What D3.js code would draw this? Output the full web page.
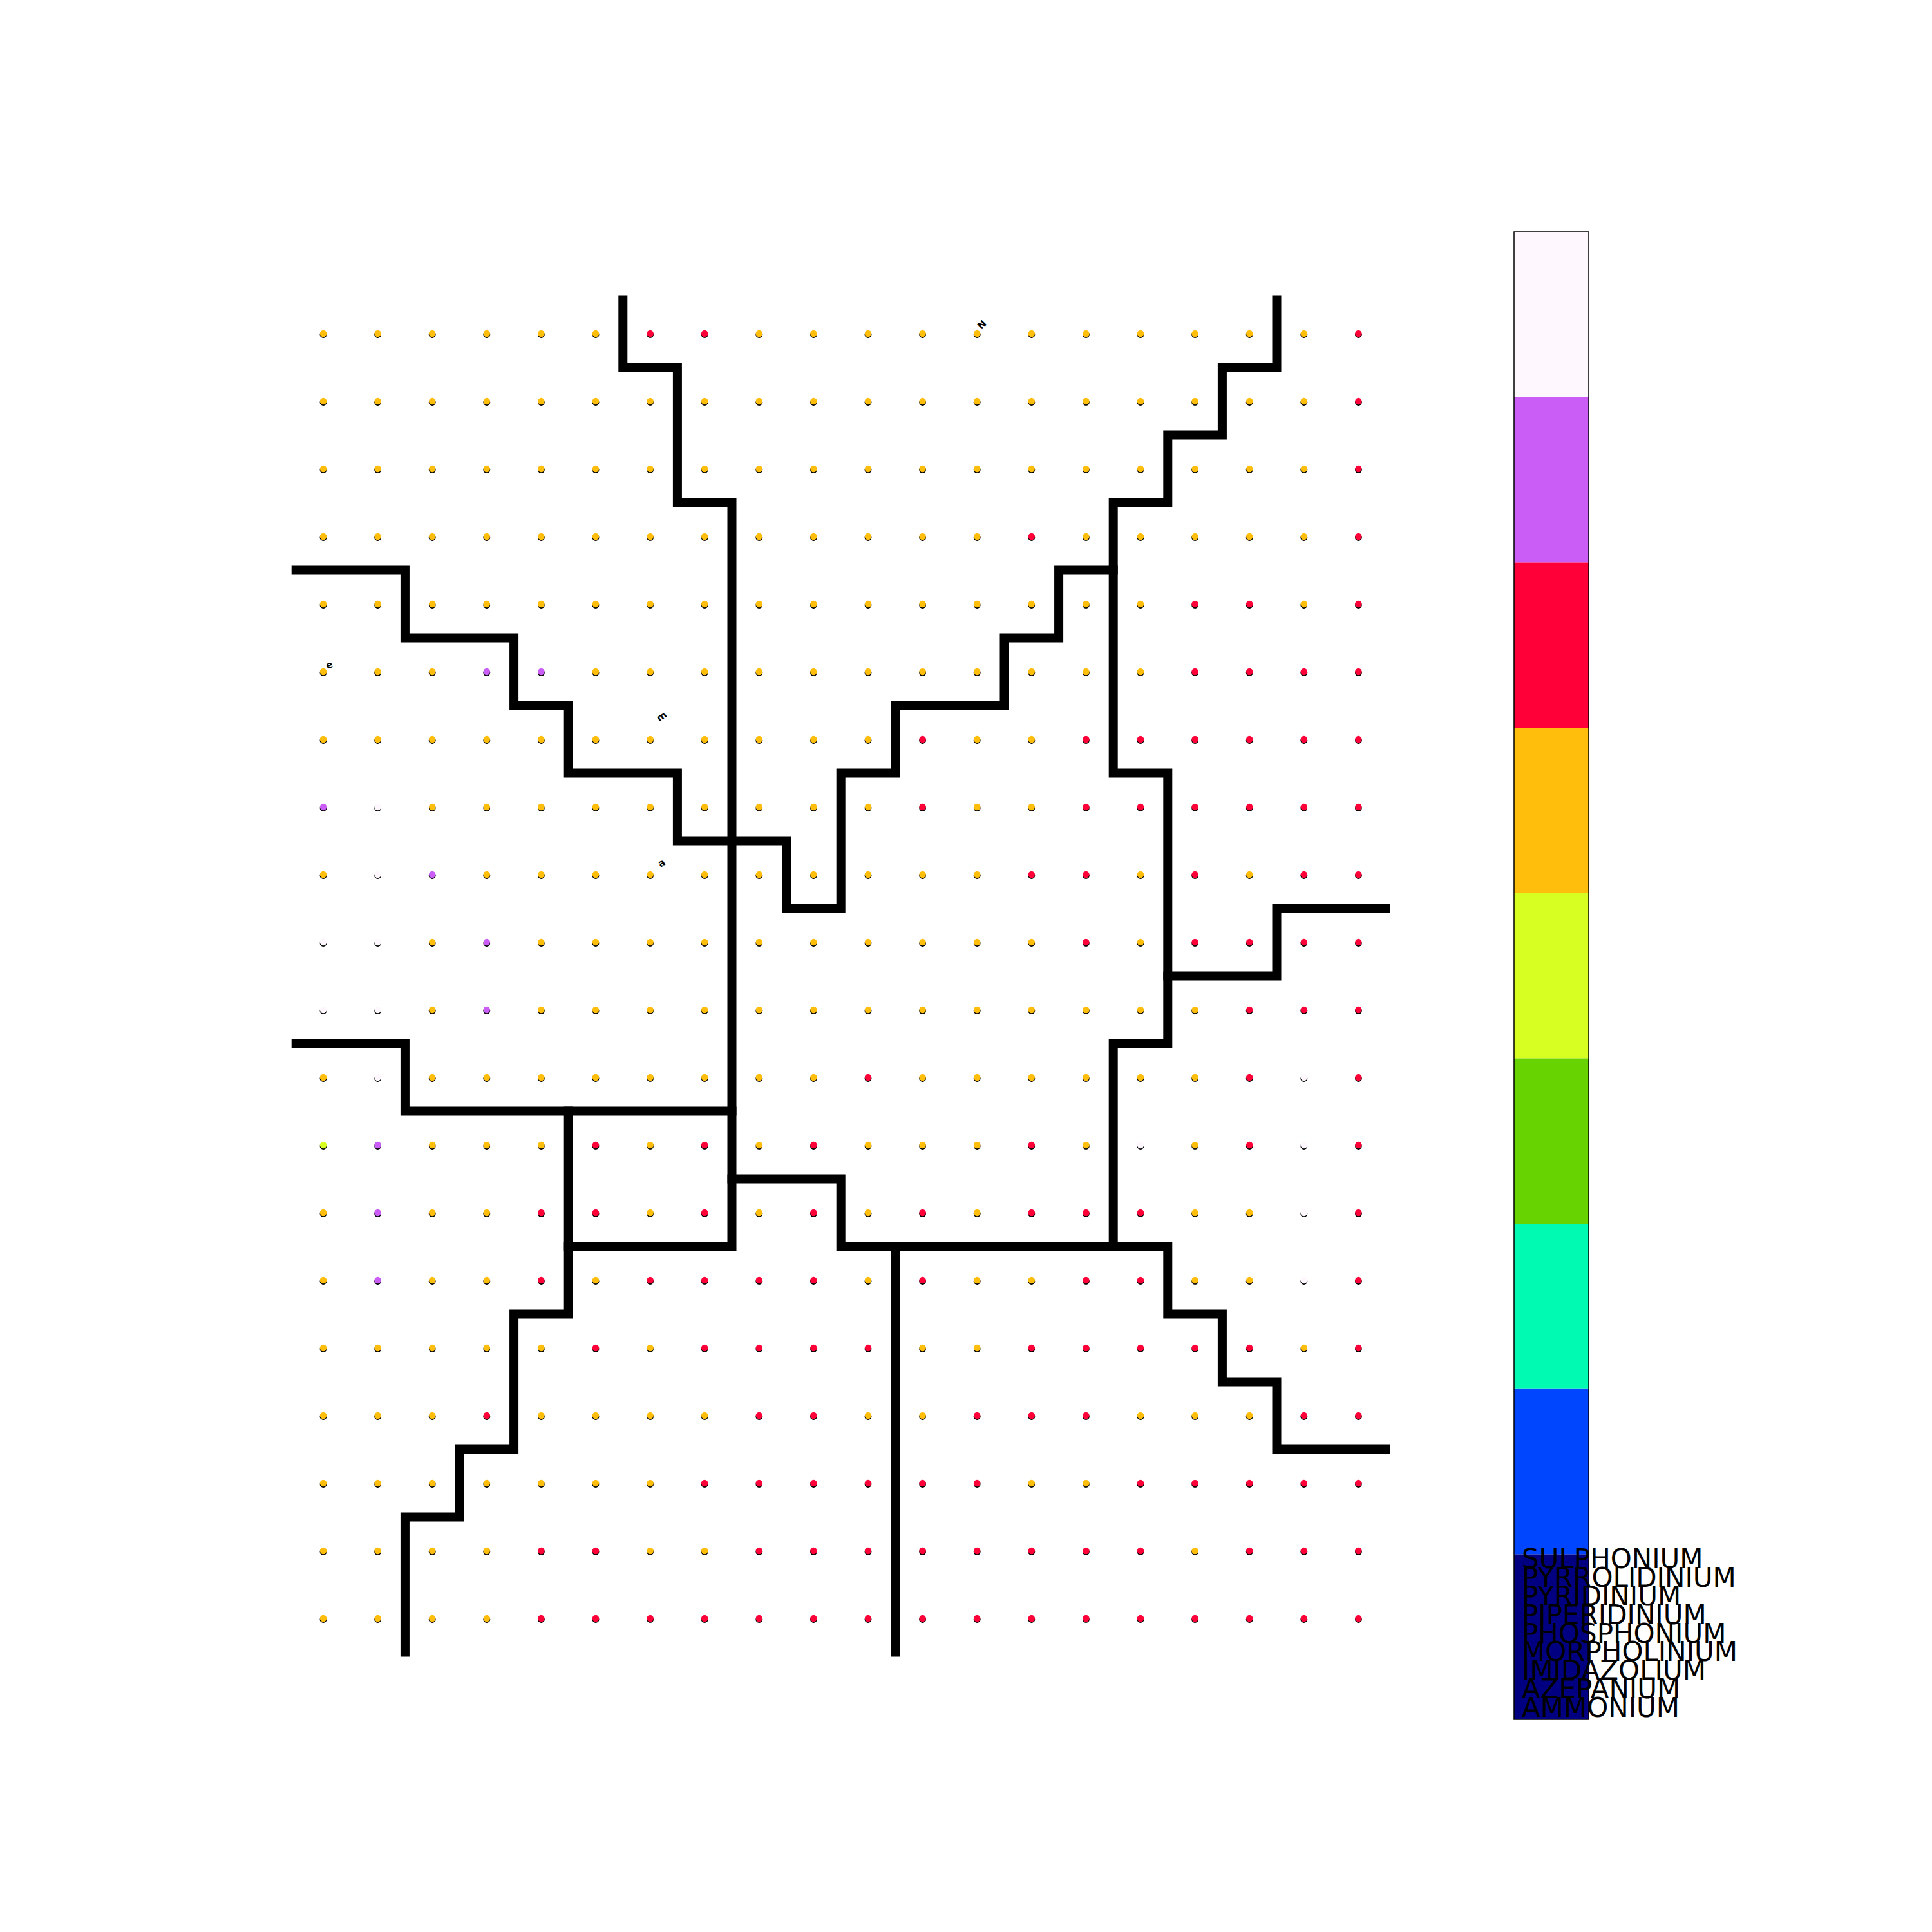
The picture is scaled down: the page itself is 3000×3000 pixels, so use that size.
<!DOCTYPE html>
<html>
<head>
<meta charset="utf-8">
<script src="https://cdn.jsdelivr.net/npm/d3@7"></script>
<style>
  html, body { margin: 0; padding: 0; background: #ffffff; }
  svg { display: block; }
</style>
</head>
<body>
<script>
// ---------------- data ----------------
const categories = ["AMMONIUM", "AZEPANIUM", "IMIDAZOLIUM", "MORPHOLINIUM", "PHOSPHONIUM",
                    "PIPERIDINIUM", "PYRIDINIUM", "PYRROLIDINIUM", "SULPHONIUM"];
const categoryColors = ["#000080", "#0045ff", "#00fab2", "#67d300", "#d8ff22",
                        "#ffbe0c", "#ff0039", "#c95df5", "#fef8fe"];
// winning category (index into categories) of every map node, one string per row, one digit per column
const gridRows = [
  "55555566555555555556",
  "55555555555555555556",
  "55555555555555555556",
  "55555555555556555556",
  "55555555555555556656",
  "55577555555555556666",
  "55555555555655666666",
  "78555555555655666666",
  "58755555555556656566",
  "88575555555555656666",
  "88575555555555555666",
  "58555555556555555686",
  "47555656565556585686",
  "57556656565656665586",
  "57556566665655665586",
  "55555656666556666656",
  "55565555665566655566",
  "55555556666665566666",
  "55556655666666665666",
  "55556666666666666666"
];
// cluster boundaries (grid units, edges between nodes)
const boundaries = [
  [[5.5,-0.5],[5.5,0.5],[6.5,0.5],[6.5,2.5],[7.5,2.5],[7.5,13.5],[4.5,13.5]],
  [[-0.5,3.5],[1.5,3.5],[1.5,4.5],[3.5,4.5],[3.5,5.5],[4.5,5.5],[4.5,6.5],[6.5,6.5],[6.5,7.5],
   [8.5,7.5],[8.5,8.5],[9.5,8.5],[9.5,6.5],[10.5,6.5],[10.5,5.5],[12.5,5.5],[12.5,4.5],
   [13.5,4.5],[13.5,3.5],[14.5,3.5]],
  [[17.5,-0.5],[17.5,0.5],[16.5,0.5],[16.5,1.5],[15.5,1.5],[15.5,2.5],[14.5,2.5],[14.5,6.5],
   [15.5,6.5],[15.5,10.5],[14.5,10.5],[14.5,13.5]],
  [[15.5,9.5],[17.5,9.5],[17.5,8.5],[19.5,8.5]],
  [[-0.5,10.5],[1.5,10.5],[1.5,11.5],[7.5,11.5]],
  [[4.5,11.5],[4.5,14.5],[3.5,14.5],[3.5,16.5],[2.5,16.5],[2.5,17.5],[1.5,17.5],[1.5,19.5]],
  [[7.5,12.5],[9.5,12.5],[9.5,13.5],[15.5,13.5],[15.5,14.5],[16.5,14.5],[16.5,15.5],
   [17.5,15.5],[17.5,16.5],[19.5,16.5]],
  [[10.5,13.5],[10.5,19.5]]
];
// small rotated annotations (grid units)
const annotations = [
  {text: "N", col: 12.09, row: -0.13, angle: -45},
  {text: "e", col: 0.11, row: 4.90, angle: -20},
  {text: "m", col: 6.21, row: 5.66, angle: -35},
  {text: "a", col: 6.21, row: 7.83, angle: -30}
];

// ---------------- drawing ----------------
const W = 3000, H = 3000;
const svg = d3.select("body").append("svg").attr("width", W).attr("height", H);
svg.append("rect").attr("width", W).attr("height", H).attr("fill", "#ffffff");

const nCols = gridRows[0].length, nRows = gridRows.length;
const x = d3.scaleLinear().domain([-0.5, nCols - 0.5]).range([459.7, 2151.7]);
const y = d3.scaleLinear().domain([-0.5, nRows - 0.5]).range([465.5, 2565.5]);
const color = d3.scaleOrdinal().domain(d3.range(categories.length)).range(categoryColors);

const nodes = [];
gridRows.forEach((row, r) => {
  row.split("").forEach((ch, c) => nodes.push({r, c, k: +ch}));
});

const dots = svg.append("g");
dots.selectAll("circle.shadow").data(nodes).join("circle")
  .attr("class", "shadow")
  .attr("cx", d => x(d.c)).attr("cy", d => y(d.r) + 1.5)
  .attr("r", 5.4).attr("fill", "#000");
dots.selectAll("circle.node").data(nodes).join("circle")
  .attr("class", "node")
  .attr("cx", d => x(d.c)).attr("cy", d => y(d.r))
  .attr("r", 5.2).attr("fill", d => color(d.k));

const line = d3.line().x(d => x(d[0])).y(d => y(d[1]));
svg.append("g").selectAll("path").data(boundaries).join("path")
  .attr("d", line)
  .attr("fill", "none").attr("stroke", "#000").attr("stroke-width", 14)
  .attr("stroke-linecap", "square").attr("stroke-linejoin", "miter");

svg.append("g").selectAll("text").data(annotations).join("text")
  .attr("transform", d => `translate(${x(d.col)},${y(d.row)}) rotate(${d.angle})`)
  .attr("text-anchor", "middle").attr("dominant-baseline", "central")
  .attr("font-family", "DejaVu Sans").attr("font-weight", "bold").attr("font-size", 15)
  .attr("fill", "#000").text(d => d.text);

// ---------------- colorbar ----------------
const cbX = 2351, cbW = 116;
const cbY = d3.scaleLinear().domain([0, categories.length]).range([2670, 360]);
const cb = svg.append("g");
cb.selectAll("rect").data(categories).join("rect")
  .attr("x", cbX).attr("width", cbW)
  .attr("y", (d, i) => cbY(i + 1)).attr("height", (d, i) => cbY(i) - cbY(i + 1))
  .attr("fill", (d, i) => categoryColors[i]);
cb.append("rect").attr("x", cbX).attr("y", cbY(categories.length))
  .attr("width", cbW).attr("height", cbY(0) - cbY(categories.length))
  .attr("fill", "none").attr("stroke", "#000").attr("stroke-width", 1.5);

const tickScale = d3.scaleLinear().domain([0, 80]).range([2670, 360]);
cb.selectAll("text").data(categories).join("text")
  .attr("x", 2363).attr("y", (d, i) => tickScale(i) - 4)
  .attr("font-family", "DejaVu Sans").attr("font-size", 42)
  .attr("fill", "#000").text(d => d);
</script>
</body>
</html>
